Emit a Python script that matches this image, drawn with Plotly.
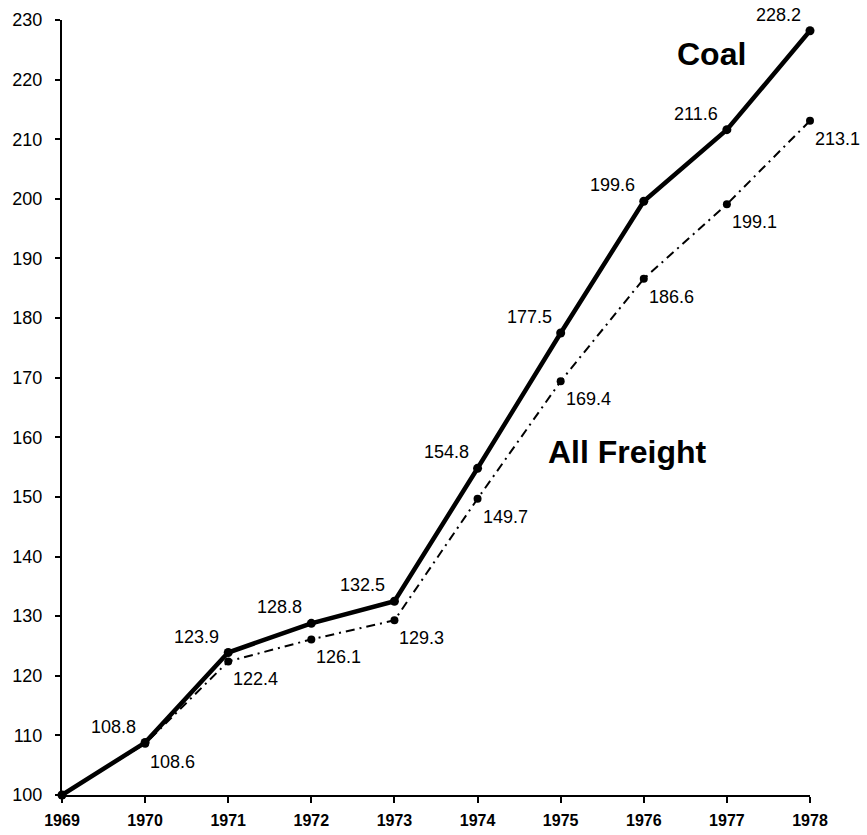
import plotly.graph_objects as go

years = [1969, 1970, 1971, 1972, 1973, 1974, 1975, 1976, 1977, 1978]
coal = [100.0, 108.8, 123.9, 128.8, 132.5, 154.8, 177.5, 199.6, 211.6, 228.2]
all_freight = [100.0, 108.6, 122.4, 126.1, 129.3, 149.7, 169.4, 186.6, 199.1, 213.1]
y_ticks = list(range(100, 231, 10))

FONT = "Liberation Sans, Arial, Helvetica, sans-serif"

fig = go.Figure()
fig.add_trace(go.Scatter(
    x=years, y=all_freight, mode="lines+markers", name="All Freight",
    line=dict(color="black", width=2, dash="9px,5px,2px,5px"),
    marker=dict(color="black", size=8), cliponaxis=False,
))
fig.add_trace(go.Scatter(
    x=years, y=coal, mode="lines+markers", name="Coal",
    line=dict(color="black", width=4.5),
    marker=dict(color="black", size=9), cliponaxis=False,
))

annotations = []
# coal values sit to the upper left of each point
for x, v in zip(years[1:], coal[1:]):
    annotations.append(dict(
        x=x, y=v, text=f"{v:.1f}", showarrow=False, xanchor="right", yanchor="bottom",
        xshift=-7, yshift=4, font=dict(family=FONT, size=18, color="black"),
    ))
# all-freight values sit to the lower right of each point
for x, v in zip(years[1:], all_freight[1:]):
    annotations.append(dict(
        x=x, y=v, text=f"{v:.1f}", showarrow=False, xanchor="left", yanchor="top",
        xshift=3, yshift=-6, font=dict(family=FONT, size=18, color="black"),
    ))
annotations.append(dict(
    x=1976.82, y=224.3, text="<b>Coal</b>", showarrow=False, xanchor="center", yanchor="middle",
    font=dict(family=FONT, size=32, color="black"),
))
annotations.append(dict(
    x=1975.81, y=157.5, text="<b>All Freight</b>", showarrow=False, xanchor="center", yanchor="middle",
    font=dict(family=FONT, size=32, color="black"),
))

fig.update_layout(
    width=867, height=835,
    margin=dict(l=62, r=57, t=20, b=40),
    paper_bgcolor="white", plot_bgcolor="white",
    showlegend=False,
    annotations=annotations,
    font=dict(family=FONT, color="black"),
)
fig.update_xaxes(
    range=[1969, 1978], tickvals=years, ticktext=[f"<b>{y}</b>" for y in years],
    showgrid=False, zeroline=False, showline=True, linecolor="black", linewidth=2,
    ticks="outside", ticklen=6, tickwidth=2, tickcolor="black", automargin=False,
    tickfont=dict(family=FONT, size=16, color="black"), ticklabelstandoff=4,
)
fig.update_yaxes(
    range=[100, 230], tickvals=y_ticks,
    showgrid=False, zeroline=False, showline=True, linecolor="black", linewidth=2,
    ticks="outside", ticklen=5, tickwidth=2, tickcolor="black", automargin=False,
    tickfont=dict(family=FONT, size=18, color="black"), ticklabelstandoff=9,
)

fig.write_html("out.html")
